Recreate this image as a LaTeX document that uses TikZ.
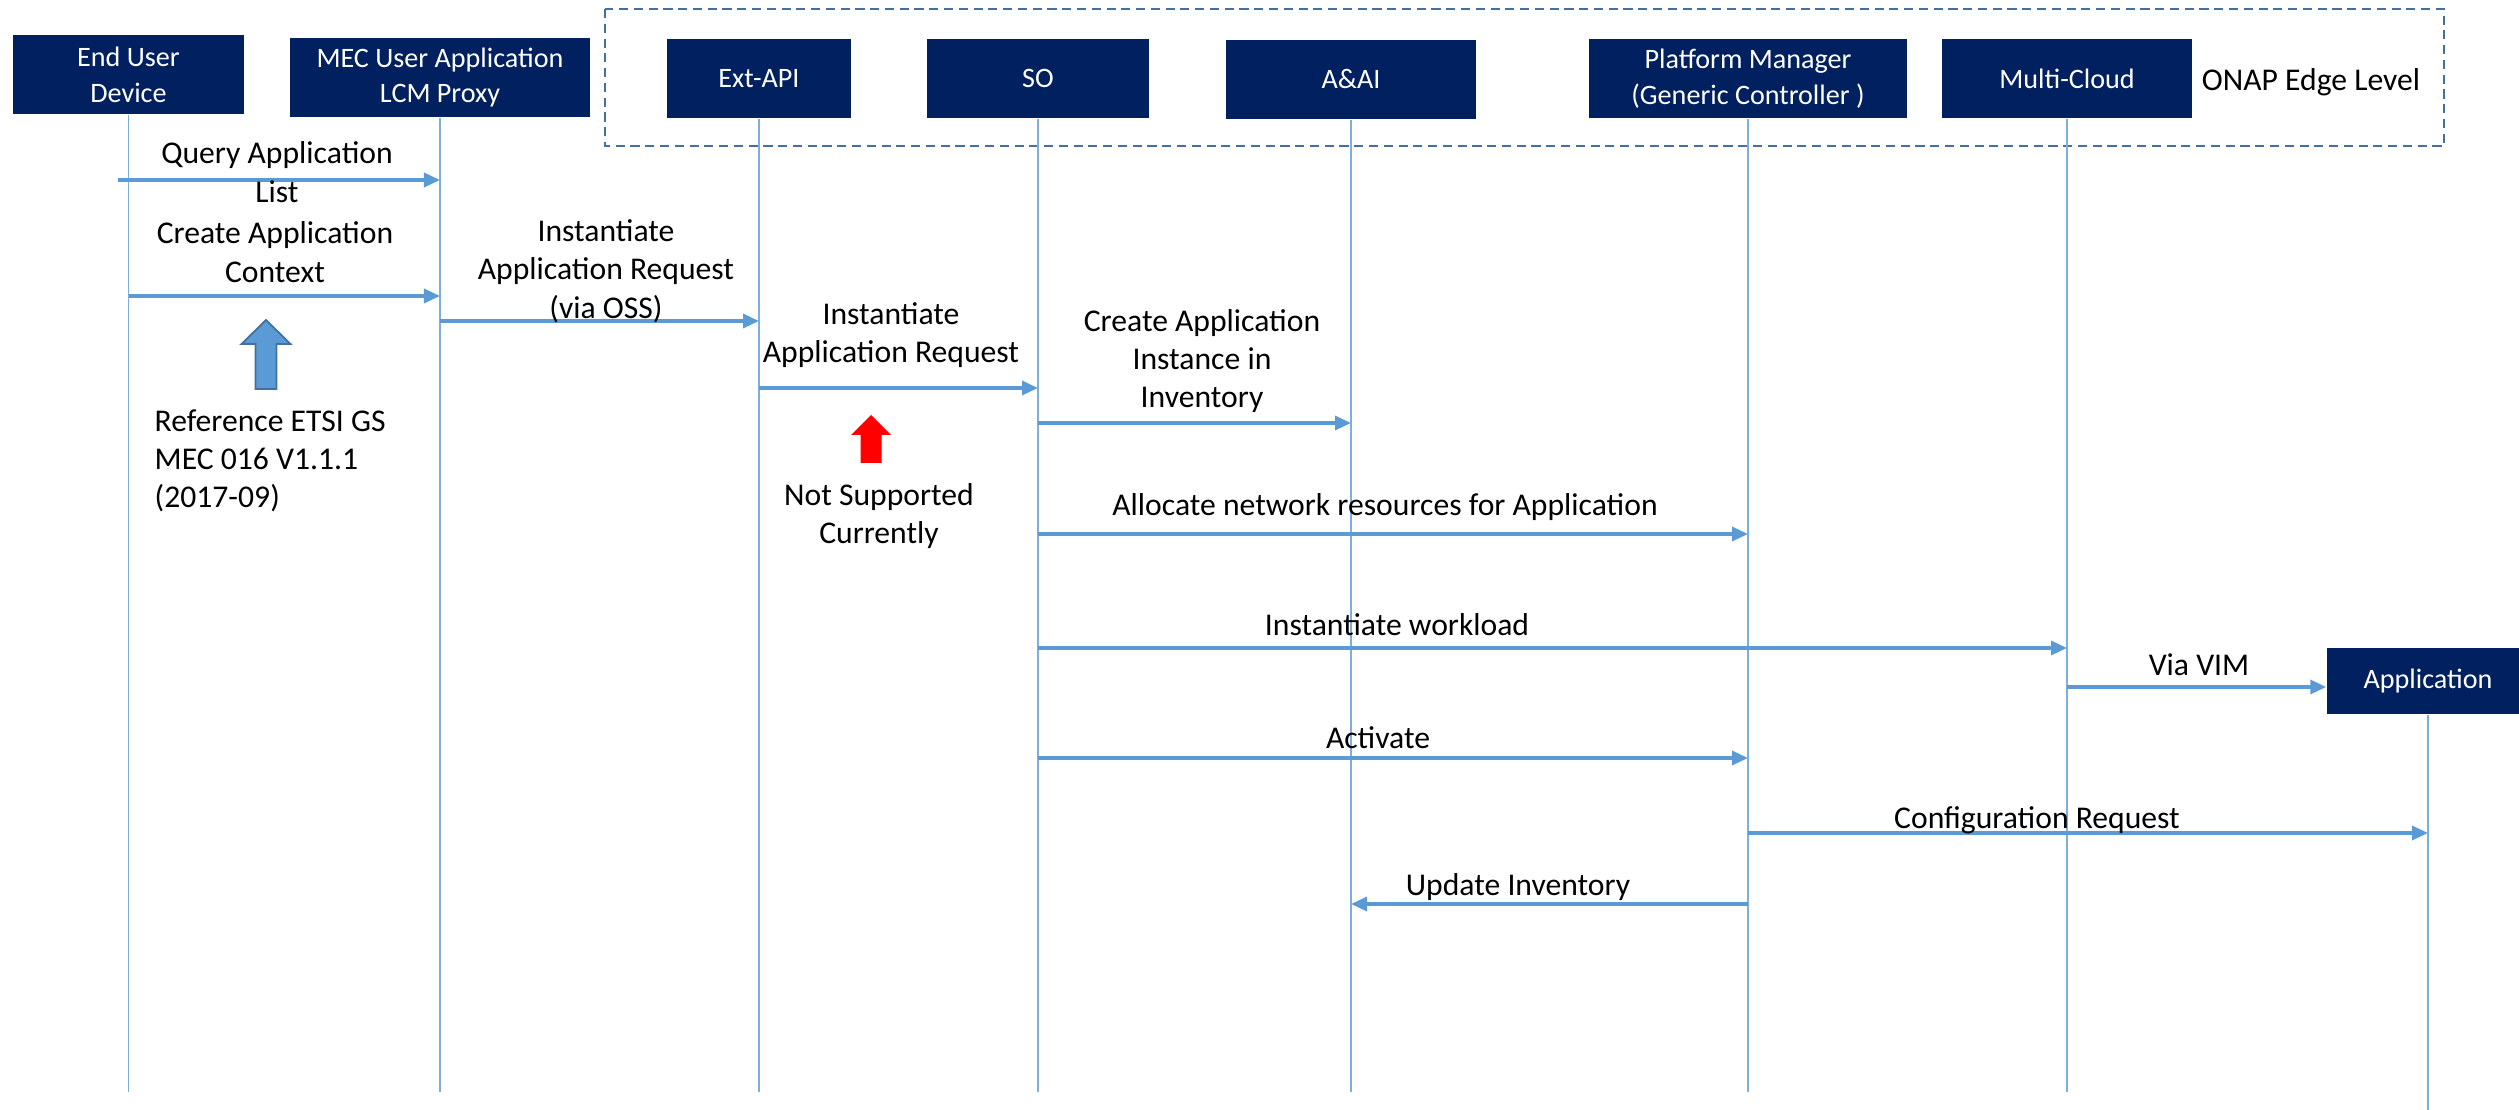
\documentclass[tikz,border=0pt]{standalone}
\usepackage{fontspec}
\setmainfont{Carlito}
\usetikzlibrary{arrows.meta,positioning}
\definecolor{boxnavy}{HTML}{002060}
\definecolor{msgblue}{HTML}{5B9BD5}
\definecolor{edgeblue}{HTML}{41719C}

\begin{document}
\begin{tikzpicture}[x=0.01cm, y=-0.01cm,
  actor/.style={rectangle, fill=boxnavy, text=white, align=center, minimum height=0.79cm, inner sep=2pt, font=\fontsize{8}{10.2}\selectfont},
  life/.style={msgblue!80, line width=0.45pt},
  msg/.style={msgblue, line width=0.95pt, -{Triangle[length=0.16cm,width=0.14cm]}},
  lbl/.style={align=center, inner sep=0pt, font=\fontsize{9}{10.9}\selectfont}
  ]
  \useasboundingbox (0,0) rectangle (2519,1110);

  % ONAP edge level frame
  \draw[edgeblue, line width=0.7pt, dash pattern=on 2.6pt off 1.6pt] (605,9) rectangle (2444,146);
  \node[lbl] (onap) at (2311,82) {ONAP Edge Level};

  \node[actor, minimum width=2.31cm] (eud) at (128.5,74.5) {End User\\Device};
  \node[actor, minimum width=3.00cm] (mec) at (440,77.5) {MEC User Application\\LCM Proxy};
  \node[actor, minimum width=1.83cm] (ext) at (759,78.5) {Ext-API};
  \node[actor, minimum width=2.22cm] (so) at (1038,78.5) {SO};
  \node[actor, minimum width=2.49cm] (aai) at (1351,79.5) {A\&AI};
  \node[actor, minimum width=3.18cm] (pm) at (1748,78.5) {Platform Manager\\(Generic Controller )};
  \node[actor, minimum width=2.49cm] (mc) at (2067,78.5) {Multi-Cloud};
  \node[actor, minimum width=2.02cm, minimum height=0.66cm] (app) at (2428,681) {Application};

  % lifelines
  \draw[life] (eud) -- (eud |- 0,1092);
  \draw[life] (mec) -- (mec |- 0,1092);
  \draw[life] (ext) -- (ext |- 0,1092);
  \draw[life] (so) -- (so |- 0,1092);
  \draw[life] (aai) -- (aai |- 0,1092);
  \draw[life] (pm) -- (pm |- 0,1092);
  \draw[life] (mc) -- (mc |- 0,1092);
  \draw[life] (app) -- (app |- 0,1110);

  % messages
  \coordinate (q0) at (118,180);
  \draw[msg] (q0) -- (mec |- q0);
  \node[lbl] (qlbl) at (277,172) {Query Application\\List};

  \draw[msg] (eud |- 0,296) -- (mec |- 0,296);
  \node[lbl] (clbl) at (275,252) {Create Application\\Context};

  \draw[msg] (mec |- 0,321) -- (ext |- 0,321);
  \node[lbl] (osslbl) at (606,271) {Instantiate\\Application Request\\(via OSS)};

  \draw[msg] (ext |- 0,388) -- (so |- 0,388);
  \node[lbl] (irlbl) at (891,335) {Instantiate\\Application Request};

  \draw[msg] (so |- 0,423) -- (aai |- 0,423);
  \node[lbl] (cilbl) at (1202,361) {Create Application\\Instance in\\Inventory};

  \draw[msg] (so |- 0,534) -- (pm |- 0,534);
  \node[lbl] (allbl) at (1385,507) {Allocate network resources for Application};

  \draw[msg] (so |- 0,648) -- (mc |- 0,648);
  \node[lbl] (iwlbl) at (1397,625) {Instantiate workload};

  \draw[msg] (mc |- 0,687) -- (app.west |- 0,687);
  \node[lbl] (vimlbl) at (2199,665) {Via VIM};

  \draw[msg] (so |- 0,758) -- (pm |- 0,758);
  \node[lbl] (actlbl) at (1378,738) {Activate};

  \draw[msg] (pm |- 0,833) -- (app |- 0,833);
  \node[lbl] (cfglbl) at (2037,820) {Configuration Request};

  \draw[msg] (pm |- 0,904) -- (aai |- 0,904);
  \node[lbl] (uplbl) at (1518,887) {Update Inventory};

  % block arrows
  \draw[fill=msgblue, draw=edgeblue, line width=0.5pt] (266,320) -- (290.5,344) -- (276.5,344) -- (276.5,389) -- (255.5,389) -- (255.5,344) -- (241.5,344) -- cycle;
  \node[lbl, anchor=west, align=left] (reflbl) at (154,461) {Reference ETSI GS\\MEC 016 V1.1.1\\(2017-09)};

  \fill[red] (871,415) -- (891,435) -- (881.5,435) -- (881.5,463) -- (860.5,463) -- (860.5,435) -- (851,435) -- cycle;
  \node[lbl] (nslbl) at (879,516) {Not Supported\\Currently};
\end{tikzpicture}
\end{document}
